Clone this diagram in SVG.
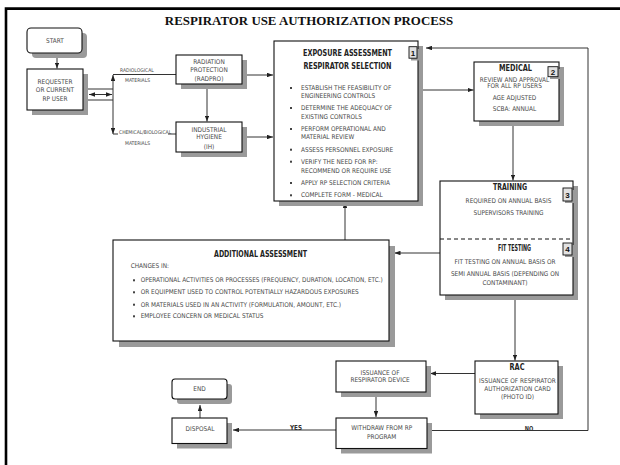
<svg xmlns="http://www.w3.org/2000/svg" width="620" height="465" viewBox="0 0 620 465">
<style>
.sh{fill:#9a9a9a}
.bx{fill:#fff;stroke:#111;stroke-width:1.1}
.nb{fill:#e2e2e2;stroke:#111;stroke-width:0.9}
.ln{fill:none;stroke:#333;stroke-width:1}
text{font-family:"Liberation Sans Narrow","Arial Narrow","DejaVu Sans Condensed","Liberation Sans",sans-serif}
.t{font-size:6.45px;fill:#4a4a4a}
.tc{font-size:6.45px;fill:#4a4a4a;text-anchor:middle}
.h{font-size:8.3px;font-weight:bold;fill:#222;text-anchor:middle}
.s{font-size:5px;fill:#4a4a4a}
.n{font-size:8px;font-weight:bold;fill:#111;text-anchor:middle;font-family:"Liberation Sans",sans-serif}
.yn{font-size:6.8px;font-weight:bold;fill:#333;text-anchor:middle}
.ti{font-family:"Liberation Serif",serif;font-size:12.9px;font-weight:bold;fill:#111;text-anchor:middle}
.bu{fill:#444}
</style>
<defs>
<marker id="a" viewBox="0 0 8 6" refX="8" refY="3" markerWidth="6" markerHeight="4.5" markerUnits="userSpaceOnUse" orient="auto-start-reverse">
<path d="M0,0 L8,3 L0,6 z" fill="#222"/>
</marker>
</defs>
<rect width="620" height="465" fill="#fff"/>
<path d="M6,465 V8.6 H620" fill="none" stroke="#000" stroke-width="2.6"/>
<text class="ti" x="309" y="25">RESPIRATOR USE AUTHORIZATION PROCESS</text>

<g id="connectors">
<path class="ln" d="M57,53 V68.5" marker-end="url(#a)"/>
<path class="ln" d="M82,89 H113 M82,100 H113"/>
<path class="ln" d="M89,94.5 H112" marker-start="url(#a)" marker-end="url(#a)"/>
<path class="ln" d="M113,75 V134" marker-start="url(#a)" marker-end="url(#a)"/>
<path class="ln" d="M113,74.5 H176 M113,134 H118 M168,134 H176"/>
<path class="ln" d="M242,75 H273" marker-end="url(#a)"/>
<path class="ln" d="M242,137 H273" marker-end="url(#a)"/>
<path class="ln" d="M207,84 V121.5" marker-end="url(#a)"/>
<path class="ln" d="M418,90 H473.5" marker-end="url(#a)"/>
<path class="ln" d="M513,121 V180.5" marker-end="url(#a)"/>
<path class="ln" d="M440,253 H394.5" marker-end="url(#a)"/>
<path class="ln" d="M345,240 V202" marker-end="url(#a)"/>
<path class="ln" d="M515,295 V360.5" marker-end="url(#a)"/>
<path class="ln" d="M475,373.5 H430" marker-end="url(#a)"/>
<path class="ln" d="M376,392 V417" marker-end="url(#a)"/>
<path class="ln" d="M336,430 H233" marker-end="url(#a)"/>
<path class="ln" d="M200,418 V405" marker-end="url(#a)"/>
<path class="ln" d="M427,430.5 H588 V48 H426" marker-end="url(#a)"/>
<text class="s" x="120" y="71.7">RADIOLOGICAL</text>
<text class="s" x="125" y="82">MATERIALS</text>
<text class="s" x="119" y="134">CHEMICAL/BIOLOGICAL</text>
<text class="s" x="125" y="144.5">MATERIALS</text>
<text class="yn" x="296" y="430" textLength="12" lengthAdjust="spacingAndGlyphs">YES</text>
<text class="yn" x="529" y="431" textLength="8.5" lengthAdjust="spacingAndGlyphs">NO</text>
</g>

<g id="start">
<rect class="sh" x="32" y="33" width="55" height="25" rx="4"/>
<rect class="bx" x="27" y="28" width="55" height="25" rx="4"/>
<text class="tc" x="55" y="43.3">START</text>
</g>

<g id="requester">
<rect class="sh" x="32" y="74" width="56" height="41"/>
<rect class="bx" x="27" y="69" width="56" height="41"/>
<text class="tc" x="55" y="84">REQUESTER</text>
<text class="tc" x="55" y="92.3">OR CURRENT</text>
<text class="tc" x="55" y="101">RP USER</text>
</g>

<g id="radpro">
<rect class="sh" x="181" y="60" width="66" height="29"/>
<rect class="bx" x="176" y="55" width="66" height="29"/>
<text class="tc" x="209" y="64">RADIATION</text>
<text class="tc" x="209" y="72.3">PROTECTION</text>
<text class="tc" x="209" y="81">(RADPRO)</text>
</g>

<g id="ih">
<rect class="sh" x="181" y="127" width="66" height="30"/>
<rect class="bx" x="176" y="122" width="66" height="30"/>
<text class="tc" x="209" y="131.7">INDUSTRIAL</text>
<text class="tc" x="209" y="139">HYGIENE</text>
<text class="tc" x="209" y="149.3">(IH)</text>
</g>

<g id="exposure">
<rect class="sh" x="279" y="46" width="144" height="160"/>
<rect class="bx" x="274" y="41" width="144" height="160"/>
<rect class="sh" x="411" y="49" width="8" height="11.5"/>
<rect class="nb" x="409" y="46.7" width="8" height="11.5"/>
<text class="n" x="413" y="55.7">1</text>
<text class="h" x="347.5" y="55.7" textLength="89" lengthAdjust="spacingAndGlyphs">EXPOSURE ASSESSMENT</text>
<text class="h" x="347.5" y="69.3" textLength="88" lengthAdjust="spacingAndGlyphs">RESPIRATOR SELECTION</text>
<g class="bu">
<rect x="290" y="87" width="2" height="2"/>
<rect x="290" y="107" width="2" height="2"/>
<rect x="290" y="128" width="2" height="2"/>
<rect x="290" y="148.7" width="2" height="2"/>
<rect x="290" y="160.7" width="2" height="2"/>
<rect x="290" y="182" width="2" height="2"/>
<rect x="290" y="194.3" width="2" height="2"/>
</g>
<text class="t" x="301" y="90">ESTABLISH THE FEASIBILITY OF</text>
<text class="t" x="301" y="97.7">ENGINEERING CONTROLS</text>
<text class="t" x="301" y="110">DETERMINE THE ADEQUACY OF</text>
<text class="t" x="301" y="119">EXISTING CONTROLS</text>
<text class="t" x="301" y="131">PERFORM OPERATIONAL AND</text>
<text class="t" x="301" y="139.3">MATERIAL REVIEW</text>
<text class="t" x="301" y="151.7">ASSESS PERSONNEL EXPOSURE</text>
<text class="t" x="301" y="163.7">VERIFY THE NEED FOR RP:</text>
<text class="t" x="301" y="172.7">RECOMMEND OR REQUIRE USE</text>
<text class="t" x="301" y="185">APPLY RP SELECTION CRITERIA</text>
<text class="t" x="301" y="197.3">COMPLETE FORM - MEDICAL</text>
</g>

<g id="medical">
<rect class="sh" x="479" y="67" width="85" height="59"/>
<rect class="bx" x="474" y="62" width="85" height="59"/>
<text class="h" x="515.5" y="70.7" textLength="33" lengthAdjust="spacingAndGlyphs">MEDICAL</text>
<text class="tc" x="514.5" y="81.7">REVIEW AND APPROVAL</text>
<text class="tc" x="514.5" y="88.3">FOR ALL RP USERS</text>
<text class="tc" x="514.5" y="100">AGE ADJUSTED</text>
<text class="tc" x="514.5" y="111">SCBA: ANNUAL</text>
<rect class="sh" x="550" y="69" width="10" height="10"/>
<rect class="nb" x="548" y="66.7" width="10" height="10"/>
<text class="n" x="553" y="74.8">2</text>
</g>

<g id="training">
<rect class="sh" x="445" y="186" width="133" height="114"/>
<rect class="bx" x="440" y="181" width="133" height="114"/>
<path d="M440,239 H573" fill="none" stroke="#111" stroke-width="1" stroke-dasharray="4,3"/>
<text class="h" x="510" y="190" textLength="34" lengthAdjust="spacingAndGlyphs">TRAINING</text>
<text class="tc" x="508.5" y="202.7">REQUIRED ON ANNUAL BASIS</text>
<text class="tc" x="508.5" y="215">SUPERVISORS TRAINING</text>
<text class="h" x="514.5" y="250.7" textLength="33" lengthAdjust="spacingAndGlyphs">FIT TESTING</text>
<text class="tc" x="505" y="264">FIT TESTING ON ANNUAL BASIS OR</text>
<text class="tc" x="505" y="276">SEMI ANNUAL BASIS (DEPENDING ON</text>
<text class="tc" x="505" y="285">CONTAMINANT)</text>
<rect class="sh" x="565" y="190" width="9" height="13"/>
<rect class="nb" x="563" y="188" width="9" height="13"/>
<text class="n" x="567.5" y="197.8">3</text>
<rect class="sh" x="565" y="245" width="9" height="12"/>
<rect class="nb" x="563" y="243" width="9" height="12"/>
<text class="n" x="567.5" y="252.3">4</text>
</g>

<g id="additional">
<rect class="sh" x="119" y="246" width="276" height="101"/>
<rect class="bx" x="113" y="240" width="276" height="101"/>
<text class="h" x="260.5" y="256.7" textLength="93" lengthAdjust="spacingAndGlyphs">ADDITIONAL ASSESSMENT</text>
<text class="t" x="130.7" y="268.3">CHANGES IN:</text>
<g class="bu">
<rect x="133" y="279.3" width="2" height="2"/>
<rect x="133" y="291.3" width="2" height="2"/>
<rect x="133" y="303.7" width="2" height="2"/>
<rect x="133" y="315.3" width="2" height="2"/>
</g>
<text class="t" x="140.7" y="282.3" textLength="242" lengthAdjust="spacingAndGlyphs">OPERATIONAL ACTIVITIES OR PROCESSES (FREQUENCY, DURATION, LOCATION, ETC.)</text>
<text class="t" x="140.7" y="294.3">OR EQUIPMENT USED TO CONTROL POTENTIALLY HAZARDOUS EXPOSURES</text>
<text class="t" x="140.7" y="306.7">OR MATERIALS USED IN AN ACTIVITY (FORMULATION, AMOUNT, ETC.)</text>
<text class="t" x="140.7" y="318.3">EMPLOYEE CONCERN OR MEDICAL STATUS</text>
</g>

<g id="rac">
<rect class="sh" x="480" y="366" width="83" height="53"/>
<rect class="bx" x="475" y="361" width="83" height="53"/>
<text class="h" x="517" y="370" textLength="15" lengthAdjust="spacingAndGlyphs">RAC</text>
<text class="tc" x="517.5" y="383.3">ISSUANCE OF RESPIRATOR</text>
<text class="tc" x="517.5" y="391">AUTHORIZATION CARD</text>
<text class="tc" x="517.5" y="399">(PHOTO ID)</text>
</g>

<g id="issuance">
<rect class="sh" x="341" y="366" width="90" height="31"/>
<rect class="bx" x="336" y="361" width="90" height="31"/>
<text class="tc" x="380" y="375">ISSUANCE OF</text>
<text class="tc" x="380" y="381.7">RESPIRATOR DEVICE</text>
</g>

<g id="withdraw">
<rect class="sh" x="341" y="423" width="91" height="30.5"/>
<rect class="bx" x="336" y="418" width="91" height="30.5"/>
<text class="tc" x="381.7" y="430">WITHDRAW FROM RP</text>
<text class="tc" x="381.7" y="439">PROGRAM</text>
</g>

<g id="disposal">
<rect class="sh" x="177" y="423" width="55" height="25.5"/>
<rect class="bx" x="172" y="418" width="55" height="25.5"/>
<text class="tc" x="200" y="431">DISPOSAL</text>
</g>

<g id="end">
<rect class="sh" x="177" y="384" width="55" height="20" rx="3"/>
<rect class="bx" x="172" y="379" width="55" height="20" rx="3"/>
<text class="tc" x="199.5" y="390.7">END</text>
</g>
</svg>
